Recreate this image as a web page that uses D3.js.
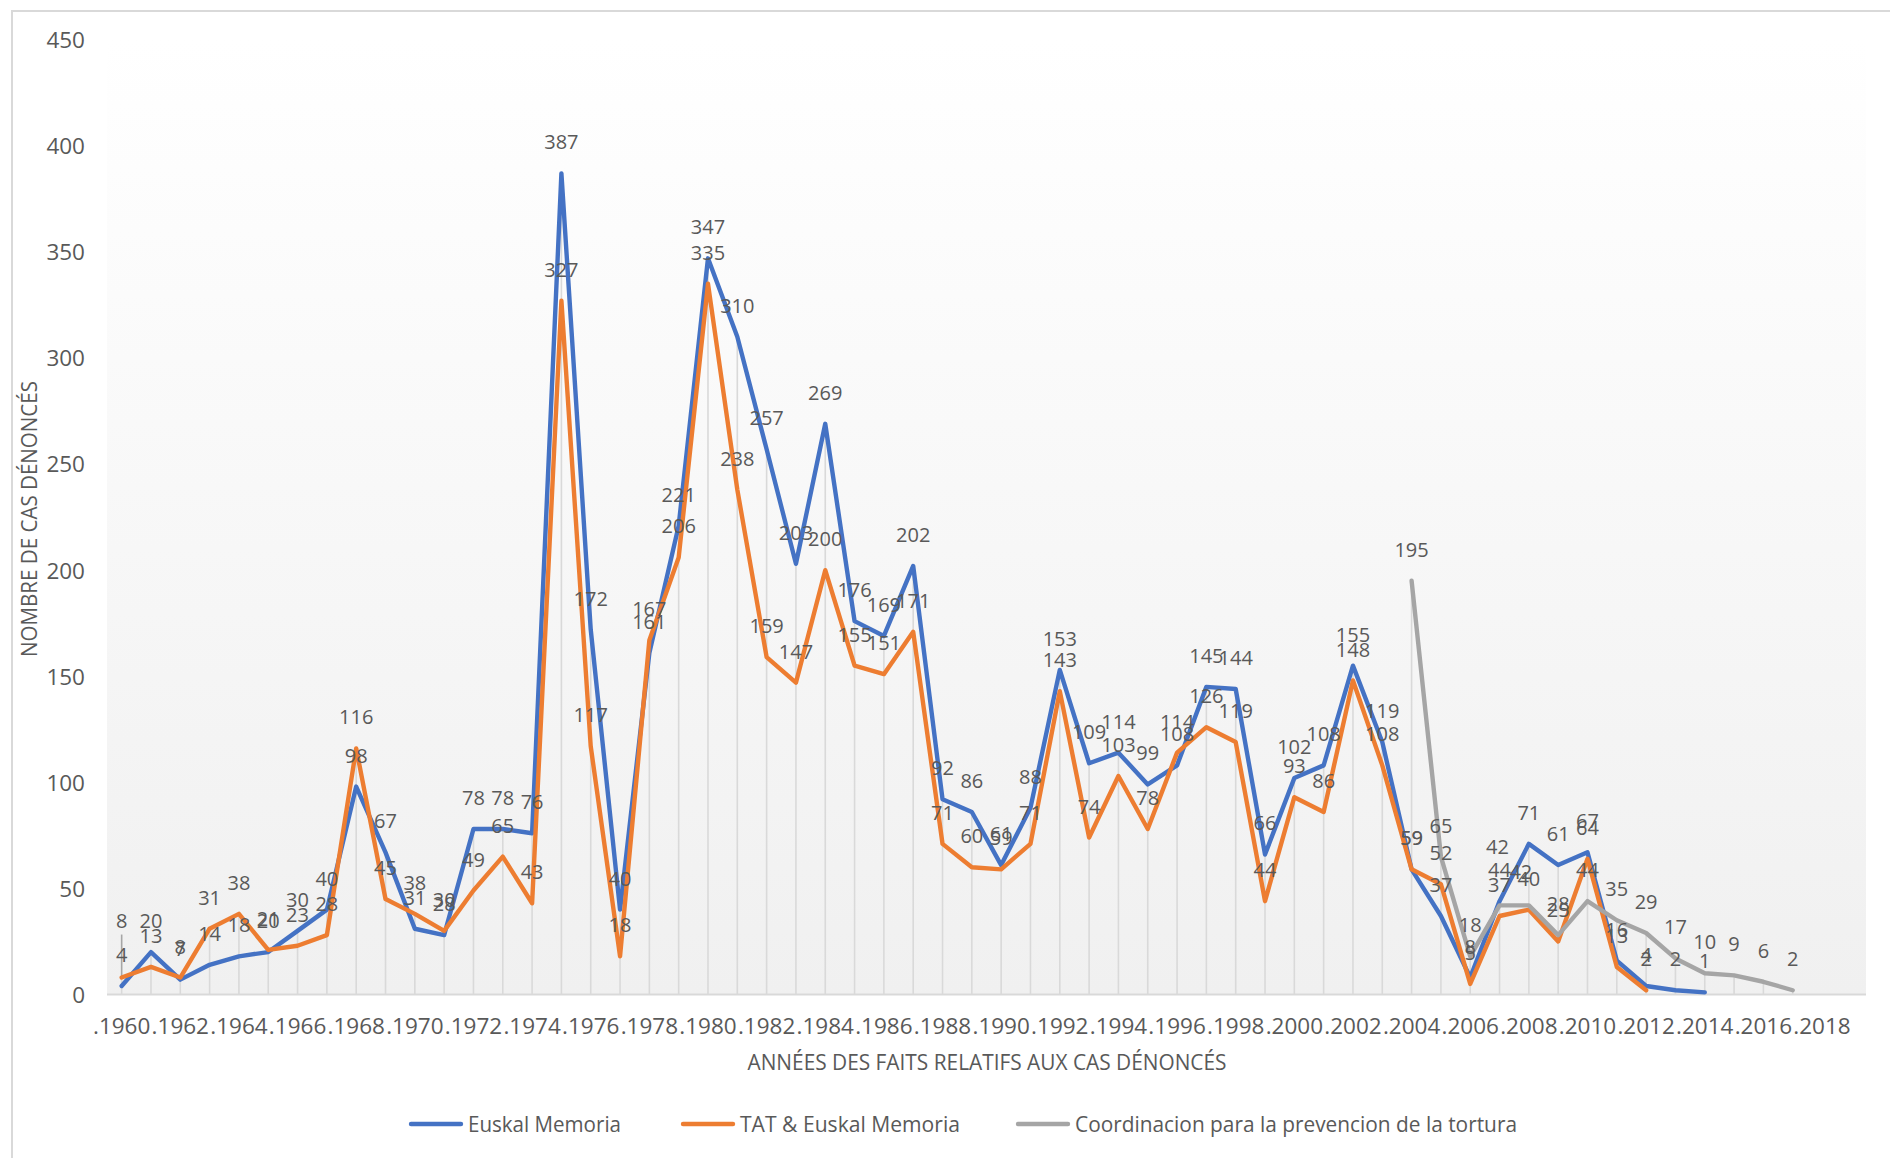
<!DOCTYPE html>
<html><head><meta charset="utf-8">
<script src="https://cdn.jsdelivr.net/npm/d3@7"></script>
<style>html,body{margin:0;padding:0;background:#fff;} svg{display:block;}</style>
</head><body>
<svg id="chart" width="1890" height="1158"></svg>
<script>
// ---- DATA ----
const years = [1960,1961,1962,1963,1964,1965,1966,1967,1968,1969,
               1970,1971,1972,1973,1974,1975,1976,1977,1978,1979,
               1980,1981,1982,1983,1984,1985,1986,1987,1988,1989,
               1990,1991,1992,1993,1994,1995,1996,1997,1998,1999,
               2000,2001,2002,2003,2004,2005,2006,2007,2008,2009,
               2010,2011,2012,2013,2014,2015,2016,2017,2018,2019];
const tickYears = [1960,1962,1964,1966,1968,1970,1972,1974,1976,1978,1980,1982,1984,1986,1988,
                   1990,1992,1994,1996,1998,2000,2002,2004,2006,2008,2010,2012,2014,2016,2018];
const tickLabels = [".1960",".1962",".1964",".1966",".1968",".1970",".1972",".1974",".1976",".1978",
                    ".1980",".1982",".1984",".1986",".1988",".1990",".1992",".1994",".1996",".1998",
                    ".2000",".2002",".2004",".2006",".2008",".2010",".2012",".2014",".2016",".2018"];
const yTicks = [0,50,100,150,200,250,300,350,400,450];

const euskalMemoria = [4,20,7,14,18,20,30,40,98,67,
                       31,28,78,78,76,387,172,40,161,221,
                       347,310,257,203,269,176,169,202,92,86,
                       61,88,153,109,114,99,108,145,144,66,
                       102,108,155,119,59,37,8,44,71,61,
                       67,16,4,2,1,null,null,null,null,null];
const tatEuskalMemoria = [8,13,8,31,38,21,23,28,116,45,
                          38,30,49,65,43,327,117,18,167,206,
                          335,238,159,147,200,155,151,171,71,60,
                          59,71,143,74,103,78,114,126,119,44,
                          93,86,148,108,59,52,5,37,40,25,
                          64,13,2,null,null,null,null,null,null,null];
const coordinacion = [null,null,null,null,null,null,null,null,null,null,
                      null,null,null,null,null,null,null,null,null,null,
                      null,null,null,null,null,null,null,null,null,null,
                      null,null,null,null,null,null,null,null,null,null,
                      null,null,null,null,195,65,18,42,42,28,
                      44,35,29,17,10,9,6,2,null,null];

const seriesNames = ["Euskal Memoria","TAT & Euskal Memoria","Coordinacion para la prevencion de la tortura"];
const seriesValues = [euskalMemoria, tatEuskalMemoria, coordinacion];
const seriesColors = ["#4472C4","#ED7D31","#A5A5A5"];
const xTitle = "ANNÉES DES FAITS RELATIFS AUX CAS DÉNONCÉS";
const yTitle = "NOMBRE DE CAS DÉNONCÉS";
// manually moved data labels (series index, year, dx, dy, leader line)
const labelMoves = [
  {s:1, yr:1960, dx:0, dy:-26, leader:true},
  {s:2, yr:2007, dx:-2, dy:-27, leader:false},
  {s:2, yr:2008, dx:-8, dy:-2, leader:false}
];

// ---- LAYOUT ----
const svg = d3.select("#chart");
const plot = {left:107, right:1866, top:39.8, bottom:994.5};
const textColor = "#595959";
const numFont = "'Open Sans', 'Noto Sans', sans-serif";

const x = d3.scaleBand().domain(years).range([plot.left, plot.right]).paddingInner(0).paddingOuter(0);
const cx = yr => x(yr) + x.bandwidth()/2;
const y = d3.scaleLinear().domain([0,450]).range([plot.bottom, plot.top]);

// chart border (outer)
svg.append("path").attr("d","M12,1158 V11 H1890").attr("fill","none")
   .attr("stroke","#d9d9d9").attr("stroke-width",2);

// plot background gradient
const defs = svg.append("defs");
const grad = defs.append("linearGradient").attr("id","bg").attr("x1",0).attr("y1",0).attr("x2",0).attr("y2",1);
grad.append("stop").attr("offset","0%").attr("stop-color","#ffffff");
grad.append("stop").attr("offset","100%").attr("stop-color","#f0f0f0");
svg.append("rect").attr("x",plot.left).attr("y",plot.top)
   .attr("width",plot.right-plot.left).attr("height",plot.bottom-plot.top)
   .attr("fill","url(#bg)");

// drop lines
const dropG = svg.append("g");
years.forEach((yr,i) => {
  const vals = seriesValues.map(s => s[i]).filter(v => v != null);
  if (!vals.length) return;
  const m = d3.max(vals);
  dropG.append("line").attr("x1",cx(yr)).attr("x2",cx(yr))
       .attr("y1",y(m)).attr("y2",y(0))
       .attr("stroke","#d9d9d9").attr("stroke-width",1.6);
});

// x axis line
svg.append("line").attr("x1",plot.left).attr("x2",plot.right)
   .attr("y1",y(0)).attr("y2",y(0)).attr("stroke","#d9d9d9").attr("stroke-width",2);

// x axis labels
const xAxis = d3.axisBottom(x).tickValues(tickYears)
   .tickFormat(yr => tickLabels[tickYears.indexOf(yr)]).tickSize(0);
const xg = svg.append("g").attr("transform",`translate(0,${y(0)})`).call(xAxis);
xg.select(".domain").remove();
xg.selectAll("text").attr("y",32).attr("dy","0.35em")
  .attr("fill",textColor).style("font-family",numFont).style("font-size","22.5px");

// y axis labels
const yAxis = d3.axisLeft(y).tickValues(yTicks).tickSize(0).tickPadding(0);
const yg = svg.append("g").attr("transform","translate(85,0)").call(yAxis);
yg.select(".domain").remove();
yg.selectAll("text").attr("dy","0.35em")
  .attr("fill",textColor).style("font-family",numFont).style("font-size","22.5px");

// leader lines for moved labels
labelMoves.filter(m => m.leader).forEach(m => {
  const v = seriesValues[m.s][years.indexOf(m.yr)];
  svg.append("line").attr("x1",cx(m.yr)+m.dx).attr("x2",cx(m.yr))
     .attr("y1",y(v)-31+m.dy+14).attr("y2",y(v))
     .attr("stroke","#a6a6a6").attr("stroke-width",1.6);
});

// lines
const line = d3.line().defined(d => d.v != null).x(d => cx(d.yr)).y(d => y(d.v));
seriesValues.forEach((vals,k) => {
  const pts = years.map((yr,i) => ({yr, v: vals[i]}));
  svg.append("path").datum(pts).attr("d",line).attr("fill","none")
     .attr("stroke",seriesColors[k]).attr("stroke-width",4.4)
     .attr("stroke-linejoin","round").attr("stroke-linecap","round");
});

// data labels
const labG = svg.append("g");
seriesValues.forEach((vals,k) => {
  years.forEach((yr,i) => {
    const v = vals[i];
    if (v == null) return;
    const mv = labelMoves.find(m => m.s === k && m.yr === yr) || {dx:0, dy:0};
    labG.append("text").attr("x",cx(yr)+mv.dx).attr("y",y(v)-31+mv.dy).attr("dy","0.35em")
        .attr("text-anchor","middle").attr("fill",textColor)
        .style("font-family",numFont).style("font-size","20px").text(v);
  });
});

// axis titles
const titleFont = "'Open Sans', 'Noto Sans', sans-serif";
svg.append("text").attr("x",987).attr("y",1063).attr("dy","0.35em").attr("text-anchor","middle")
   .attr("fill",textColor).style("font-family",titleFont).style("font-size","21px")
   .attr("textLength",479).attr("lengthAdjust","spacingAndGlyphs").text(xTitle);
svg.append("text").attr("transform","translate(30,519) rotate(-90)").attr("dy","0.35em")
   .attr("text-anchor","middle").attr("fill",textColor)
   .style("font-family",titleFont).style("font-size","21px")
   .attr("textLength",276).attr("lengthAdjust","spacingAndGlyphs").text(yTitle);

// legend
const legendX = [409, 681, 1016];
const legendW = [153, 220, 442];
const legG = svg.append("g");
seriesNames.forEach((name,k) => {
  const lx = legendX[k];
  legG.append("line").attr("x1",lx+2).attr("x2",lx+52).attr("y1",1124).attr("y2",1124)
      .attr("stroke",seriesColors[k]).attr("stroke-width",4.4).attr("stroke-linecap","round");
  legG.append("text").attr("x",lx+59).attr("y",1124).attr("dy","0.35em")
      .attr("fill",textColor).style("font-family",titleFont).style("font-size","22px")
      .attr("textLength",legendW[k]).attr("lengthAdjust","spacingAndGlyphs").text(name);
});
</script>
</body></html>
